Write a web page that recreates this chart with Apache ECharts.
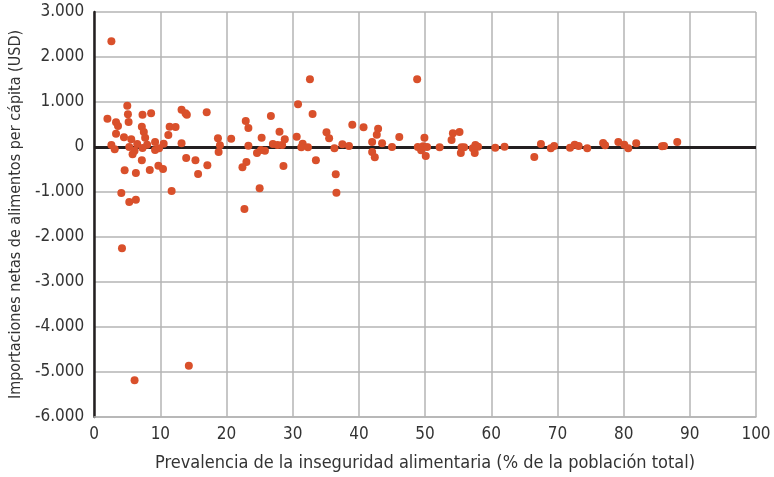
<!DOCTYPE html>
<html>
<head>
<meta charset="utf-8">
<script src="https://cdn.jsdelivr.net/npm/echarts@6/dist/echarts.min.js"></script>
<style>
  html, body { margin: 0; padding: 0; background: #fff; }
  #chart { width: 774px; height: 477px; }
</style>
</head>
<body>
<div id="chart"></div>
<script>
// prevalencia de inseguridad alimentaria (%) y importaciones netas per capita (USD)
var prevalencia = [
  2.6, 5.0, 5.1, 2.0, 3.3, 3.6, 5.2, 7.3, 8.6, 3.3, 4.5, 5.6, 7.2, 7.5, 7.7,
  2.6, 3.1, 5.3, 6.5, 6.1, 5.8, 7.3, 8.0, 9.2, 9.2, 9.8, 10.5, 7.2, 4.6, 6.3,
  8.4, 9.7, 10.4, 4.1, 5.3, 6.3, 11.7, 11.2, 11.4, 12.3, 13.2, 14.0, 13.8, 17.0,
  13.2, 13.9, 15.3, 15.7, 17.1, 18.7, 19.0, 18.8, 4.2, 14.3, 6.1,
  20.7, 22.9, 23.3, 26.7, 28.0, 25.3, 23.3, 27.0, 27.7, 28.4, 28.8, 25.2, 25.8,
  24.6, 23.0, 22.4, 28.6, 25.0, 22.7, 30.8, 32.6, 33.0, 30.6, 31.5, 31.3, 32.3,
  33.5, 35.1, 35.5, 36.3, 36.5, 36.6, 37.5, 38.5, 39.0,
  40.7, 42.9, 42.7, 42.0, 43.5, 42.0, 42.4, 45.0, 46.1, 48.8, 49.9, 48.9, 49.7,
  50.3, 49.4, 50.1, 52.2, 54.0, 54.2, 55.2, 55.5, 55.9, 55.4, 57.2, 57.6, 58.0,
  57.5, 60.6, 62.0, 66.5, 67.5, 69.0, 69.5, 71.9, 72.6, 73.2, 74.5, 76.9, 77.2,
  79.2, 80.1, 80.7, 81.9, 85.8, 86.1, 88.1
];
var importaciones = [
  2350, 918, 726, 630, 548, 467, 556, 718, 748, 296, 215, 170, 452, 333, 207,
  44, -52, 0, 67, -81, -163, -22, 52, 111, -67, -30, 74, -296, -519, -578,
  -511, -415, -489, -1022, -1222, -1170, -978, 267, 452, 444, 830, 718, 748, 770,
  81, -244, -296, -600, -407, 193, 37, -111, -2252, -4859, -5185,
  185, 578, 422, 689, 341, 207, 30, 67, 44, 44, 170, -67, -81,
  -133, -333, -452, -422, -919, -1378, 948, 1504, 733, 230, 74, -7, -7,
  -296, 326, 193, -30, -607, -1015, 59, 22, 496,
  437, 407, 274, 111, 81, -111, -230, 0, 222, 1504, 207, 0, 15,
  0, -74, -200, -7, 156, 304, 333, -7, -7, -133, -30, 44, 7,
  -133, -15, 7, -222, 67, -30, 22, -15, 52, 22, -30, 89, 37,
  111, 52, -30, 81, 15, 22, 111
];
var puntos = prevalencia.map(function (x, i) { return [x, importaciones[i]]; });

var fuente = '"Liberation Sans Narrow", "DejaVu Sans Condensed", "Liberation Sans", sans-serif';
var myChart = echarts.init(document.getElementById('chart'));
var option = {
    animation: false,
    grid: { left: 92, right: 18, top: 12, bottom: 60 },
    xAxis: {
        type: 'value',
        min: 0, max: 100, interval: 10,
        name: 'Prevalencia de la inseguridad alimentaria (% de la población total)',
        nameLocation: 'middle',
        nameGap: 37,
        nameTextStyle: { fontFamily: fuente, fontSize: 18, color: '#333' },
        axisLine: { show: true, onZero: false, lineStyle: { color: '#b4b4b4', width: 1.5 } },
        axisTick: { show: false },
        axisLabel: { fontFamily: fuente, fontSize: 17, color: '#333', margin: 9 },
        splitLine: { show: true, lineStyle: { color: '#b4b4b4', width: 1.5 } }
    },
    yAxis: {
        type: 'value',
        min: -6000, max: 3000, interval: 1000,
        name: 'Importaciones netas de alimentos per cápita (USD)',
        nameLocation: 'middle',
        nameGap: 70,
        nameTextStyle: { fontFamily: fuente, fontSize: 16, color: '#333' },
        axisLine: { show: true, onZero: false, lineStyle: { color: '#231f20', width: 2.5 } },
        axisTick: { show: false },
        axisLabel: {
            fontFamily: fuente, fontSize: 17, color: '#333', margin: 10,
            formatter: function (v) {
                var s = String(Math.abs(v)).replace(/\B(?=(\d{3})+(?!\d))/g, '.');
                return (v < 0 ? '-' : '') + s;
            }
        },
        splitLine: { show: true, lineStyle: { color: '#b4b4b4', width: 1.5 } }
    },
    series: [{
        type: 'scatter',
        data: puntos,
        symbolSize: 8,
        itemStyle: { color: '#d9502b', opacity: 1 },
        markLine: {
            silent: true,
            symbol: ['none', 'none'],
            label: { show: false },
            lineStyle: { color: '#231f20', width: 3, type: 'solid' },
            data: [{ yAxis: 0 }],
            z: 1
        }
    }]
};
myChart.setOption(option);
</script>
</body>
</html>
